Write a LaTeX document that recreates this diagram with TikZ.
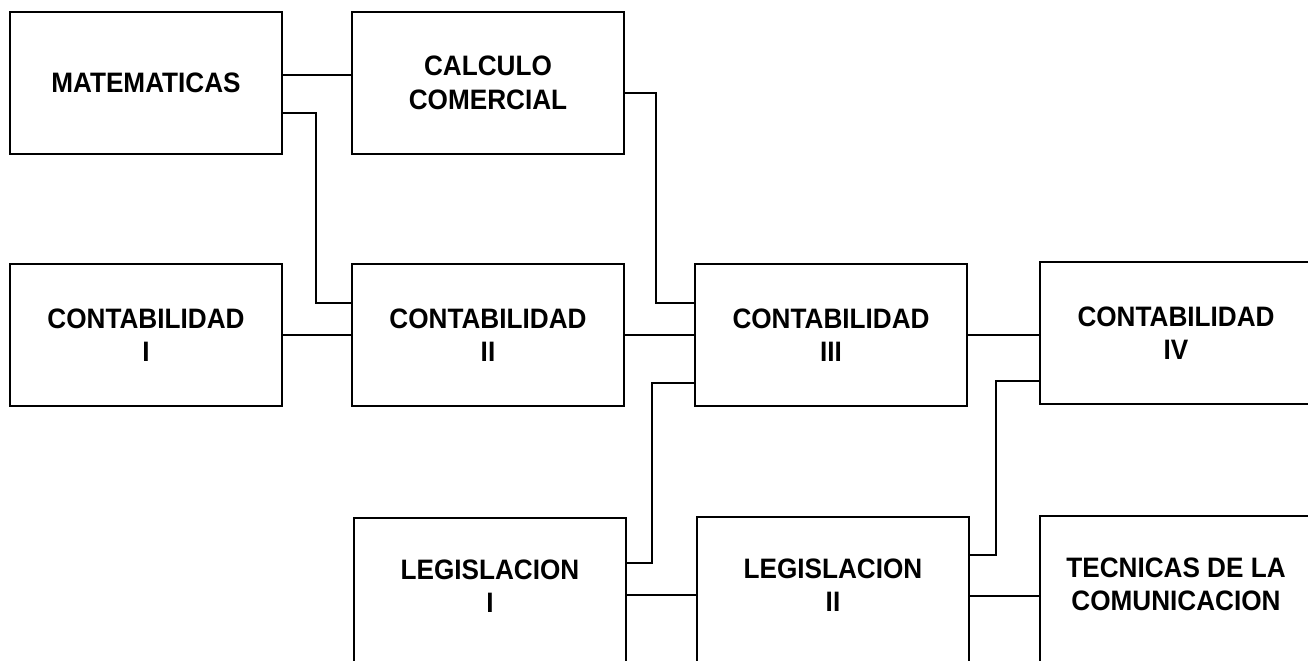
\documentclass[tikz,border=0pt]{standalone}
\usepackage{fontspec}
\setmainfont[FakeStretch=0.93]{Liberation Sans}
\usepackage{tikz}
\usetikzlibrary{positioning}

\tikzset{
  materia/.style={draw,line width=1.6pt,minimum width=5.44cm,minimum height=2.84cm,
    align=center,font=\bfseries\fontsize{16}{19}\selectfont},
  materiacut/.style={materia,minimum height=3cm,text depth=0.28cm},
  liga/.style={line width=1.1pt},
}

\begin{document}
\begin{tikzpicture}[x=0.02cm,y=-0.02cm]
\useasboundingbox (0,0) rectangle (1308,660);
\clip (0,0) rectangle (1308,660);
\node[materia] (mat) at (146,83) {MATEMATICAS};
\node[materia] (calc) at (488,83) {CALCULO\\COMERCIAL};
\node[materia] (cont1) at (146,335) {CONTABILIDAD\\I};
\node[materia] (cont2) at (488,335) {CONTABILIDAD\\II};
\node[materia] (cont3) at (831,335) {CONTABILIDAD\\III};
\node[materia] (cont4) at (1176,333) {CONTABILIDAD\\IV};
\node[materiacut] (leg1) at (490,593) {LEGISLACION\\I};
\node[materiacut] (leg2) at (833,592) {LEGISLACION\\II};
\node[materiacut] (tec) at (1176,591) {TECNICAS DE LA\\COMUNICACION};
\draw[liga] ([yshift=0.16cm]mat.east) -- ([yshift=0.16cm]calc.west);
\draw[liga] ([yshift=-0.6cm]mat.east) -- ++(0.66cm,0) |- ([yshift=0.64cm]cont2.west);
\draw[liga] (cont1.east) -- (cont2.west);
\draw[liga] ([yshift=-0.2cm]calc.east) -- ++(0.62cm,0) |- ([yshift=0.64cm]cont3.west);
\draw[liga] (cont2.east) -- (cont3.west);
\draw[liga] ([yshift=-0.96cm]cont3.west) -- ++(-0.84cm,0) |- ([yshift=0.6cm]leg1.east);
\draw[liga] ([yshift=-0.04cm]leg1.east) -- ([yshift=-0.04cm]leg1.east -| leg2.west);
\draw[liga] (cont3.east) -- (cont3.east -| cont4.west);
\draw[liga] ([yshift=-0.96cm]cont4.west) -- ++(-0.86cm,0) |- ([yshift=0.74cm]leg2.east);
\draw[liga] ([yshift=-0.08cm]leg2.east) -- ([yshift=-0.08cm]leg2.east -| tec.west);
\end{tikzpicture}
\end{document}
